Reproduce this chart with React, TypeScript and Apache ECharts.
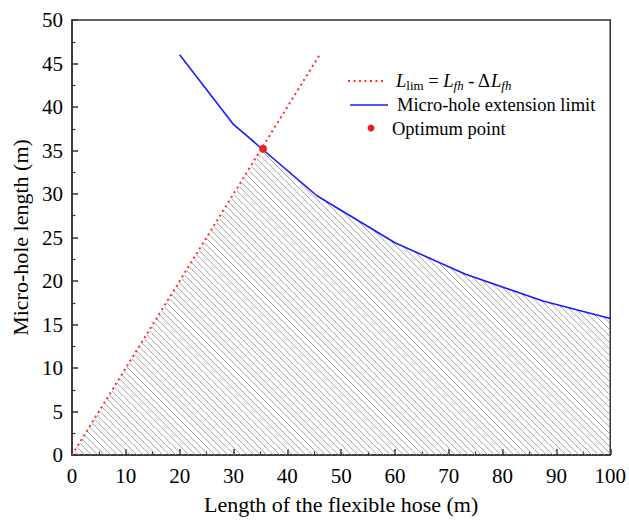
import React, { useEffect, useRef } from "react";
import * as echarts from "echarts";

const redX = [0, 46];
const redY = [0, 46];
const blueX = [20, 30, 45.5, 60, 73, 87.5, 100];
const blueY = [46, 38, 29.8, 24.4, 20.8, 17.7, 15.7];
const optX = [35.5];
const optY = [35.2];
const hatchX = [0, 35.5, 45.5, 60, 73, 87.5, 100, 100];
const hatchY = [0, 35.2, 29.8, 24.4, 20.8, 17.7, 15.7, 0];
const xTicks = { min: 0, max: 100, interval: 10 };
const yTicks = { min: 0, max: 50, interval: 5 };
const legendNames = ["Micro-hole extension limit", "Optimum point"];

const FONT = "Liberation Serif";
const RED = "#ff2a2a";
const BLUE = "#1a1aff";

export default function App() {
  const ref = useRef<HTMLDivElement>(null);
  useEffect(() => {
    if (!ref.current) return;
    document.body.style.margin = "0";
    document.body.style.overflow = "hidden";
    const chart = echarts.init(ref.current, null, { renderer: "svg" });
    const axisCommon = {
      axisLine: { show: true, lineStyle: { color: "#333", width: 1.5 } },
      axisTick: { show: true, inside: true, length: 6, lineStyle: { color: "#333", width: 1.5 } },
      minorTick: { show: true, splitNumber: 2, length: 3.5, lineStyle: { color: "#333", width: 1.2 } },
      splitLine: { show: false },
      axisLabel: { color: "#000", fontFamily: FONT, fontSize: 21 },
      nameTextStyle: { color: "#000", fontFamily: FONT, fontSize: 22 },
      nameLocation: "middle" as const,
    };
    const step = 6.5;
    const k = 1;
    const legFont = 18.5;
    chart.setOption({
      animation: false,
      textStyle: { fontFamily: FONT },
      grid: { left: 72, right: 18, top: 20, bottom: 65, show: true, borderColor: "#333", borderWidth: 1.5 },
      xAxis: {
        type: "value",
        ...xTicks,
        ...axisCommon,
        axisLabel: { ...axisCommon.axisLabel, margin: 10 },
        name: "Length of the flexible hose (m)",
        nameGap: 38,
      },
      yAxis: {
        type: "value",
        ...yTicks,
        ...axisCommon,
        axisLabel: { ...axisCommon.axisLabel, margin: 9 },
        name: "Micro-hole length (m)",
        nameGap: 39,
      },
      graphic: [
        {
          type: "line",
          shape: { x1: 348, y1: 81, x2: 384, y2: 81 },
          style: { stroke: RED, lineWidth: 2, lineDash: [2, 3.5] },
        },
        {
          type: "text",
          x: 396,
          y: 81,
          style: {
            text: "{i|L}{s|lim}{n| = }{i|L}{si|fh}{n| - Δ}{i|L}{si|fh}",
            verticalAlign: "middle",
            fill: "#000",
            rich: {
              i: { fontFamily: FONT, fontSize: legFont, fontStyle: "italic", lineHeight: 22, fill: "#000" },
              n: { fontFamily: FONT, fontSize: legFont, lineHeight: 22, fill: "#000" },
              s: { fontFamily: FONT, fontSize: 13, lineHeight: 13, verticalAlign: "bottom", padding: [6, 0, 0, 0], fill: "#000" },
              si: { fontFamily: FONT, fontSize: 13, fontStyle: "italic", lineHeight: 13, verticalAlign: "bottom", padding: [6, 0, 0, 0], fill: "#000" },
            },
          },
        },
        {
          type: "line",
          shape: { x1: 350, y1: 105, x2: 388, y2: 105 },
          style: { stroke: BLUE, lineWidth: 1.6 },
        },
        {
          type: "text",
          x: 397,
          y: 105,
          style: { text: legendNames[0], fontFamily: FONT, fontSize: legFont, fill: "#000", verticalAlign: "middle" },
        },
        {
          type: "circle",
          shape: { cx: 371, cy: 128, r: 3.5 },
          style: { fill: "#e82020" },
        },
        {
          type: "text",
          x: 392,
          y: 129,
          style: { text: legendNames[1], fontFamily: FONT, fontSize: legFont, fill: "#000", verticalAlign: "middle" },
        },
      ],
      series: [
        {
          type: "custom",
          name: "hatch",
          silent: true,
          z: 1,
          data: [[0, 0]],
          renderItem: (params: any, api: any) => {
            if (params.dataIndex !== 0) return null;
            const pts = hatchX.map((x, i) => api.coord([x, hatchY[i]]));
            const cs = pts.map((p: number[]) => p[1] - k * p[0]);
            const cmin = Math.min(...cs);
            const cmax = Math.max(...cs);
            const base = pts[0][1] - k * pts[0][0];
            const children: any[] = [];
            let c = base - Math.ceil((base - cmin) / step) * step;
            for (; c <= cmax; c += step) {
              const hits: number[][] = [];
              for (let i = 0; i < pts.length; i++) {
                const p1 = pts[i];
                const p2 = pts[(i + 1) % pts.length];
                const f1 = p1[1] - k * p1[0] - c;
                const f2 = p2[1] - k * p2[0] - c;
                if ((f1 < 0) !== (f2 < 0)) {
                  const t = f1 / (f1 - f2);
                  hits.push([p1[0] + t * (p2[0] - p1[0]), p1[1] + t * (p2[1] - p1[1])]);
                }
              }
              hits.sort((a, b) => a[0] - b[0]);
              for (let j = 0; j + 1 < hits.length; j += 2) {
                children.push({
                  type: "line",
                  shape: { x1: hits[j][0], y1: hits[j][1], x2: hits[j + 1][0], y2: hits[j + 1][1] },
                  style: { stroke: "#9a9a9a", lineWidth: 0.9 },
                });
              }
            }
            return { type: "group", children };
          },
        },
        {
          type: "line",
          name: "Llim",
          z: 3,
          data: redX.map((x, i) => [x, redY[i]]),
          showSymbol: false,
          symbol: "none",
          lineStyle: { color: RED, width: 2, type: [2, 3.5] },
        },
        {
          type: "line",
          name: legendNames[0],
          z: 4,
          data: blueX.map((x, i) => [x, blueY[i]]),
          showSymbol: false,
          symbol: "none",
          lineStyle: { color: BLUE, width: 1.6 },
        },
        {
          type: "scatter",
          name: legendNames[1],
          z: 5,
          data: optX.map((x, i) => [x, optY[i]]),
          symbolSize: 8,
          itemStyle: { color: "#e82020", opacity: 1 },
        },
      ],
    });
    return () => chart.dispose();
  }, []);
  return <div ref={ref} style={{ position: "absolute", left: 0, top: 0, width: 629, height: 520 }} />;
}
